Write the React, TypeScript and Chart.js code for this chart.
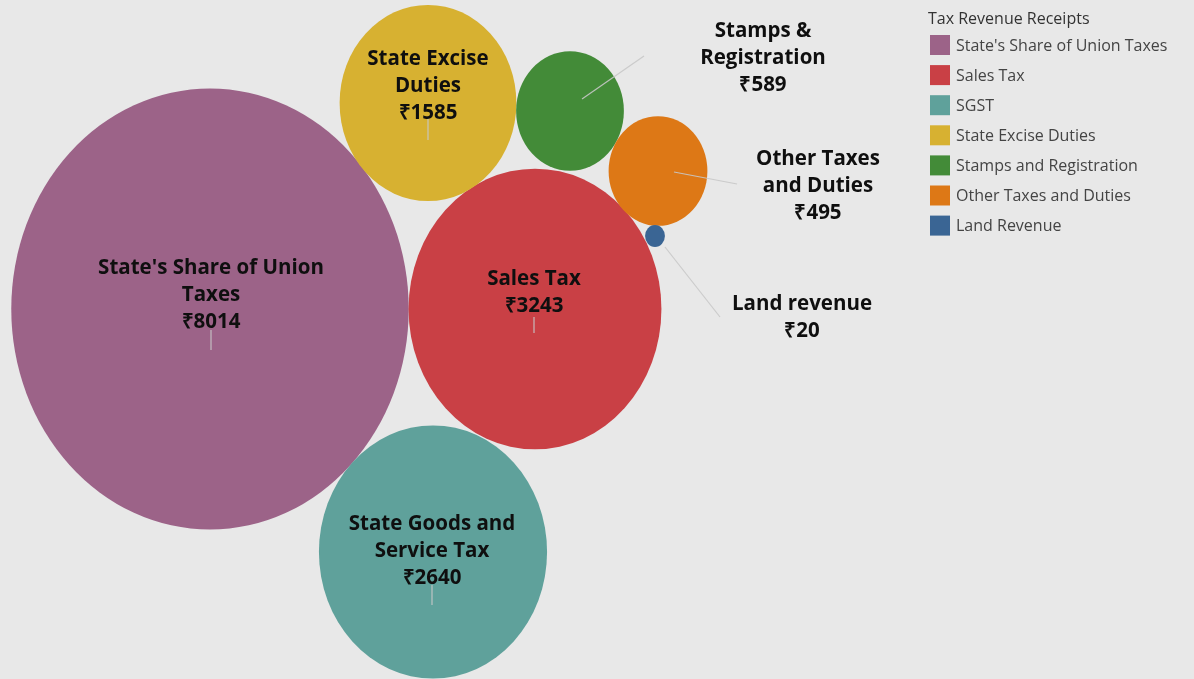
import React, { useEffect, useRef } from "react";
import { Chart, registerables } from "chart.js";

Chart.register(...registerables);

// ---- data ----
const categories = [
  "State's Share of Union Taxes",
  "Sales Tax",
  "SGST",
  "State Excise Duties",
  "Stamps and Registration",
  "Other Taxes and Duties",
  "Land Revenue",
];
const bubbleNames = [
  ["State's Share of Union", "Taxes"],
  ["Sales Tax"],
  ["State Goods and", "Service Tax"],
  ["State Excise", "Duties"],
  ["Stamps &", "Registration"],
  ["Other Taxes", "and Duties"],
  ["Land revenue"],
];
const values = [8014, 3243, 2640, 1585, 589, 495, 20];
const legendTitle = "Tax Revenue Receipts";

// ---- layout (packed-bubble placement, in scale units) ----
const packX = [210, 535, 433, 428, 570, 658, 655];
const packY = [309, 309, 552, 103, 111, 171, 236];
const labelX = [211, 534, 432, 428, 763, 818, 802];
const labelY = [266, 277, 522, 57, 29, 157, 302];
const leaderFrom = [[211, 330], [534, 317], [432, 585], [428, 118], [582, 99], [674, 172], [665, 247]];
const leaderTo = [[211, 350], [534, 333], [432, 605], [428, 140], [644, 56], [737, 184], [720, 317]];

// ---- style ----
const colors = ["#9c6388", "#c94045", "#5fa19b", "#d7b131", "#438b38", "#dd7816", "#3a6594"];
const BG = "#e8e8e8";
const SIZE_K = 2.22;
const ELLIPSE_Y = 1.11;

export default function App() {
  const ref = useRef<HTMLCanvasElement | null>(null);

  useEffect(() => {
    if (!ref.current) return;

    const bgPlugin = {
      id: "bg",
      beforeDraw(chart: any) {
        const { ctx, width, height } = chart;
        ctx.save();
        ctx.fillStyle = BG;
        ctx.fillRect(0, 0, width, height);
        ctx.restore();
      },
    };

    const ellipsePlugin = {
      id: "ellipse",
      beforeDatasetDraw(chart: any, args: any) {
        const meta = args.meta;
        const ctx = chart.ctx;
        meta.data.forEach((el: any) => {
          ctx.save();
          ctx.translate(el.x, el.y);
          ctx.scale(1, ELLIPSE_Y);
          ctx.translate(-el.x, -el.y);
          el.draw(ctx, chart.chartArea);
          ctx.restore();
        });
        return false;
      },
    };

    const labelPlugin = {
      id: "labels",
      afterDatasetsDraw(chart: any) {
        const ctx = chart.ctx;
        const xs = chart.scales.x;
        const ys = chart.scales.y;
        ctx.save();
        // leader lines
        ctx.strokeStyle = "rgba(200,200,200,0.9)";
        ctx.lineWidth = 1.2;
        values.forEach((_, i) => {
          ctx.beginPath();
          ctx.moveTo(xs.getPixelForValue(leaderFrom[i][0]), ys.getPixelForValue(leaderFrom[i][1]));
          ctx.lineTo(xs.getPixelForValue(leaderTo[i][0]), ys.getPixelForValue(leaderTo[i][1]));
          ctx.stroke();
        });
        // labels
        ctx.fillStyle = "#0f0f0f";
        ctx.font = "bold 20.5px 'Open Sans'";
        ctx.textAlign = "center";
        ctx.textBaseline = "middle";
        values.forEach((v, i) => {
          const lines = [...bubbleNames[i], "\u20B9" + v];
          const x = xs.getPixelForValue(labelX[i]);
          const y0 = ys.getPixelForValue(labelY[i]) + 2;
          lines.forEach((t, j) => ctx.fillText(t, x, y0 + j * 27.3));
        });
        // legend
        ctx.textAlign = "left";
        ctx.font = "16px 'Open Sans'";
        ctx.fillStyle = "#333";
        ctx.fillText(legendTitle, 928, 19);
        categories.forEach((c, i) => {
          const cy = 45 + i * 30.1;
          ctx.fillStyle = colors[i];
          ctx.fillRect(930, cy - 10, 20, 20);
          ctx.fillStyle = "#444";
          ctx.fillText(c, 956, cy + 1);
        });
        ctx.restore();
      },
    };

    const chart = new Chart(ref.current, {
      type: "bubble",
      data: {
        datasets: [
          {
            label: legendTitle,
            data: values.map((v, i) => ({ x: packX[i], y: packY[i], r: SIZE_K * Math.sqrt(v) })),
            backgroundColor: colors,
            borderWidth: 0,
            hoverBorderWidth: 0,
          },
        ],
      },
      options: {
        responsive: false,
        animation: false,
        maintainAspectRatio: false,
        layout: { padding: 0, autoPadding: false },
        plugins: { legend: { display: false }, tooltip: { enabled: false } },
        scales: {
          x: { type: "linear", min: 0, max: 1194, display: false },
          y: { type: "linear", min: 0, max: 679, reverse: true, display: false },
        },
      },
      plugins: [bgPlugin, ellipsePlugin, labelPlugin],
    });
    return () => chart.destroy();
  }, []);

  return (
    <div style={{ position: "absolute", left: 0, top: 0, width: 1194, height: 679, overflow: "hidden" }}>
      <canvas ref={ref} width={1194} height={679} style={{ display: "block" }} />
    </div>
  );
}
